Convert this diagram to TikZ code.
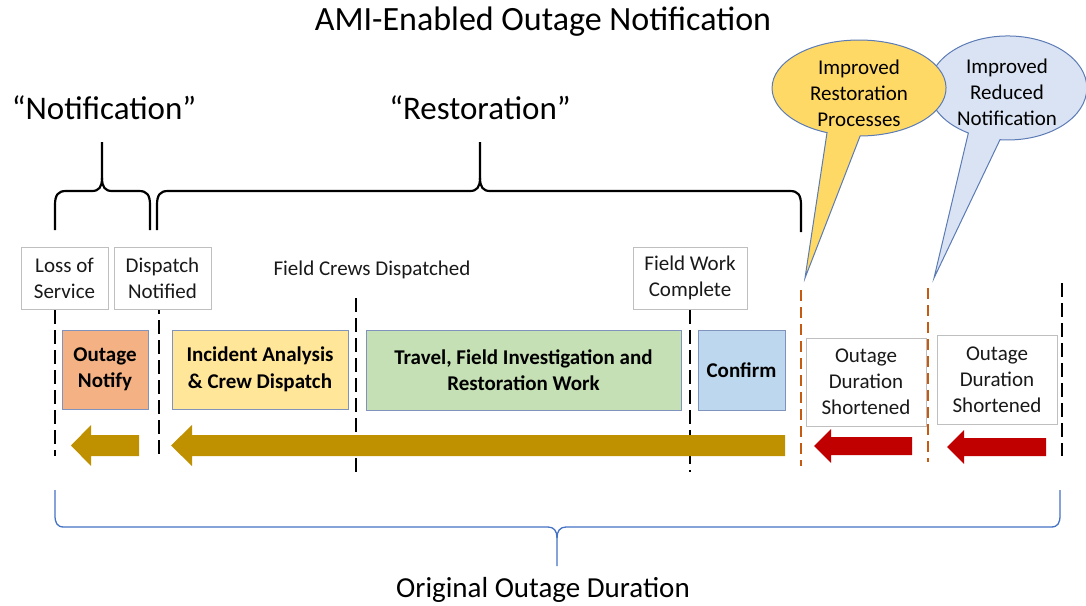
\documentclass[tikz,border=0pt]{standalone}
\usepackage{fontspec}
\setmainfont{Carlito}
\usetikzlibrary{shapes.geometric}
\definecolor{gold}{HTML}{BF9000}
\definecolor{darkred}{HTML}{C00000}
\definecolor{rust}{HTML}{C55A11}
\definecolor{boxedge}{HTML}{7F93BC}
\definecolor{graybox}{HTML}{BFBFBF}
\definecolor{fOrange}{HTML}{F4B183}
\definecolor{fYellow}{HTML}{FFE699}
\definecolor{fGreen}{HTML}{C5E0B4}
\definecolor{fBlue}{HTML}{BDD7EE}
\definecolor{calloutY}{HTML}{FFD966}
\definecolor{calloutB}{HTML}{DAE3F3}
\definecolor{calloutEdge}{HTML}{5B7BB5}
\definecolor{braceblue}{HTML}{4472C4}
\newcommand\leftblock[7]{% style, tip, back, tail, yc, shaft half, head half
  \fill[#1] (#2,#5) -- (#3,#5-#7) -- (#3,#5-#6) -- (#4,#5-#6) -- (#4,#5+#6) -- (#3,#5+#6) -- (#3,#5+#7) -- cycle;}
\begin{document}
\begin{tikzpicture}[x=1pt,y=-1pt,
  lbl/.style={draw=graybox, line width=1pt, fill=white, align=center, inner sep=0pt, text=black!90, font=\fontsize{21}{26}\selectfont},
  phase/.style={draw=boxedge, line width=1pt, align=center, inner sep=0pt, font=\bfseries\fontsize{21}{26.5}\selectfont},
  tick/.style={line width=2pt, dash pattern=on 14pt off 6pt},
  rusttick/.style={line width=2.2pt, rust, dash pattern=on 11pt off 6pt},
  bigtext/.style={font=\fontsize{33}{38}\selectfont, inner sep=0pt},
  topbrace/.style={line width=2.2pt, line join=round},
  calltext/.style={align=center, inner sep=0pt, font=\fontsize{21}{26}\selectfont}]
\useasboundingbox (0,0) rectangle (1086,605);

% title and headings
\node[font=\fontsize{34}{40}\selectfont, inner sep=0pt] (title) at (543,22) {AMI-Enabled Outage Notification};
\node[bigtext] (notif) at (104,108) {“Notification”};
\node[bigtext] (resto) at (480,108) {“Restoration”};

% top braces
\draw[topbrace] (55,230) -- (55,205) .. controls (55,195) and (58,191) .. (66,191) -- (92,191) .. controls (99,191) and (102,187) .. (102,178) -- (102,142);
\draw[topbrace] (150,230) -- (150,205) .. controls (150,195) and (147,191) .. (139,191) -- (112,191) .. controls (105,191) and (102,187) .. (102,178);
\draw[topbrace] (157,230) -- (157,205) .. controls (157,195) and (160,191) .. (168,191) -- (470,191) .. controls (477,191) and (480,187) .. (480,178) -- (480,142);
\draw[topbrace] (801,232) -- (801,205) .. controls (801,195) and (798,191) .. (790,191) -- (490,191) .. controls (483,191) and (480,187) .. (480,178);

% callouts
\filldraw[fill=calloutB, draw=calloutEdge, line width=1pt] (934,278) -- (1000,139.7) arc[start angle=95.7, end angle=-240, x radius=79, y radius=52] -- cycle;
\node[calltext] (callB) at (1007,92) {Improved\\Reduced\\Notification};
\filldraw[fill=calloutY, draw=calloutEdge, line width=1pt] (805,278) -- (860.1,136) arc[start angle=89.3, end angle=-248.4, x radius=87, y radius=48] -- cycle;
\node[calltext] (callA) at (859,93) {Improved\\Restoration\\Processes};

% dashed time markers
\draw[tick] (55,310) -- (55,456);
\draw[tick] (159,300) -- (159,456);
\draw[tick] (356,298) -- (356,472);
\draw[tick] (690,310) -- (690,472);
\draw[tick] (1062,283) -- (1062,456);
\draw[rusttick] (801,290) -- (801,466);
\draw[rusttick] (928,288) -- (928,462);

% event labels
\node[lbl, minimum width=87pt, minimum height=62pt] (loss) at (64.5,278) {Loss of\\Service};
\node[lbl, minimum width=97pt, minimum height=62pt] (disp) at (162.5,278) {Dispatch\\Notified};
\node[lbl, minimum width=114pt, minimum height=62pt] (fwc) at (690,278) {Field Work\\Complete};
\node[font=\fontsize{21}{26}\selectfont, inner sep=0pt, text=black!90] (crews) at (372,270) {Field Crews Dispatched};
\node[lbl, minimum width=120pt, minimum height=88pt] (ods1) at (866,382) {Outage\\Duration\\Shortened};
\node[lbl, minimum width=120pt, minimum height=89pt] (ods2) at (997,379.5) {Outage\\Duration\\Shortened};

% phases
\node[phase, fill=fOrange, minimum width=86pt, minimum height=79pt] (notify) at (105,369.5) {Outage\\Notify};
\node[phase, fill=fYellow, minimum width=176pt, minimum height=79pt] (incident) at (260,369.5) {Incident Analysis\\\& Crew Dispatch};
\node[phase, fill=fGreen, minimum width=315pt, minimum height=80pt] (travel) at (523.5,370) {Travel, Field Investigation and\\Restoration Work};
\node[phase, fill=fBlue, minimum width=87pt, minimum height=80pt] (confirm) at (741.5,370) {Confirm};

% arrows
\leftblock{gold}{71}{91}{139}{445.5}{10.5}{20.5}
\leftblock{gold}{171}{192}{785}{445.5}{10.5}{20.5}
\leftblock{darkred}{814}{831}{912}{446}{9}{17}
\leftblock{darkred}{947}{964}{1046}{447}{9}{17}

% bottom brace
\draw[braceblue, line width=1.3pt] (55,490) -- (55,515) .. controls (55,523) and (57,527) .. (64,527) -- (548,527) .. controls (554,527) and (557,531) .. (557,538) -- (557,566);
\draw[braceblue, line width=1.3pt] (1060,490) -- (1060,515) .. controls (1060,523) and (1058,527) .. (1051,527) -- (566,527) .. controls (560,527) and (557,531) .. (557,538);
\node[font=\fontsize{29}{34}\selectfont, inner sep=0pt] (orig) at (543,590) {Original Outage Duration};
\end{tikzpicture}
\end{document}
